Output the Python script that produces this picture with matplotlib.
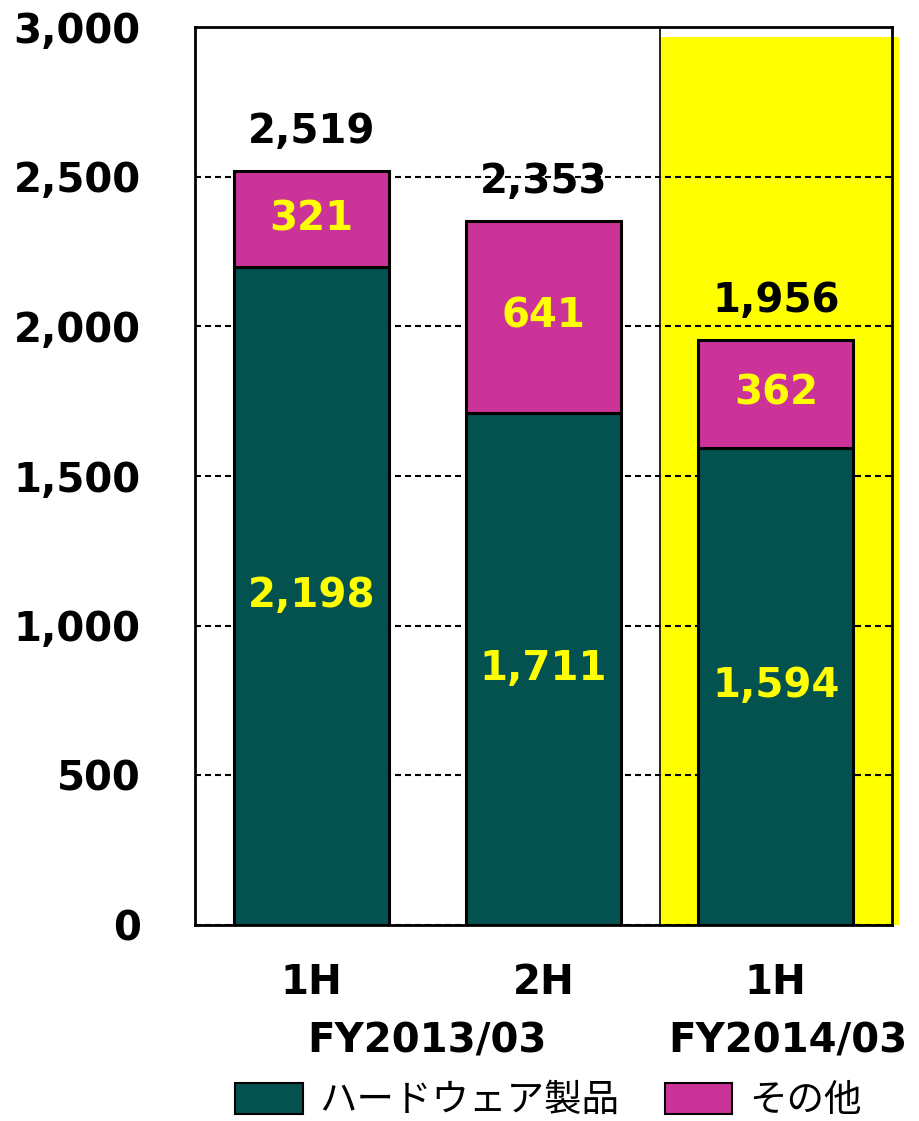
import matplotlib
matplotlib.use("Agg")
import matplotlib.pyplot as plt
from matplotlib.patches import Rectangle, Patch
import matplotlib.transforms as mtransforms
import numpy as np

# data
periods = ["1H", "2H", "1H"]
fiscal_years = ["FY2013/03", "FY2014/03"]
hardware = [2198, 1711, 1594]
other = [321, 641, 362]
totals = [2519, 2353, 1956]
series_names = ["ハードウェア製品", "その他"]

teal = "#03524F"
magenta = "#CC3399"

plt.rcParams['font.family'] = ['DejaVu Sans']

fig = plt.figure(figsize=(9.2, 11.21), dpi=100)
ax = fig.add_axes([0.212, 0.1748, 0.7576, 0.8011])

x = np.arange(len(periods))
w = 0.667

# highlighted current period
ax.add_patch(Rectangle((1.5, 0), 1.03, 2968, facecolor="#FFFF00", edgecolor="none",
                       zorder=0, clip_on=False))
ax.axvline(1.5, color="black", lw=1.2, zorder=1)

ax.bar(x, hardware, w, color=teal, edgecolor="black", linewidth=2.2, zorder=3)
ax.bar(x, other, w, bottom=hardware, color=magenta, edgecolor="black", linewidth=2.2, zorder=3)

ax.set_xlim(-0.5, 2.5)
ax.set_ylim(0, 3000)
ax.set_yticks(np.arange(0, 3001, 500))
ax.set_yticklabels([f"{v:,}" for v in range(0, 3001, 500)], fontsize=29, fontweight="bold")
ax.tick_params(axis="y", length=0, pad=39)
ax.set_xticks([])
ax.yaxis.grid(True, linestyle=(0, (2.9, 1.9)), color="black", linewidth=1.5, zorder=2)
ax.set_axisbelow(False)
for s in ax.spines.values():
    s.set_linewidth(2)
    s.set_zorder(4)

lbl = dict(fontsize=29, fontweight="bold", ha="center", va="center", zorder=5)
for i in range(len(x)):
    ax.text(x[i], hardware[i] / 2, f"{hardware[i]:,}", color="#FFFF00", **lbl)
    ax.text(x[i], hardware[i] + other[i] / 2, f"{other[i]:,}", color="#FFFF00", **lbl)
    ax.text(x[i], totals[i] + 130, f"{totals[i]:,}", color="black", **lbl)

trans = mtransforms.blended_transform_factory(ax.transData, fig.transFigure)
for i, p in enumerate(periods):
    ax.text(x[i], (1121 - 983) / 1121, p, transform=trans, **{**lbl, "zorder": 1})
ax.text(0.5, (1121 - 1042) / 1121, fiscal_years[0], transform=trans, **{**lbl, "zorder": 1})
ax.text(2.05, (1121 - 1042) / 1121, fiscal_years[1], transform=trans, **{**lbl, "zorder": 1})

handles = [Patch(facecolor=teal, edgecolor="black", linewidth=1.5),
           Patch(facecolor=magenta, edgecolor="black", linewidth=1.5)]
fig.legend(handles, series_names, loc="center", bbox_to_anchor=(0.596, 0.018), ncol=2,
           frameon=False, prop={"family": "Noto Sans CJK JP", "size": 27},
           handlelength=1.8, handleheight=0.9, handletextpad=0.45, columnspacing=1.2,
           borderpad=0, borderaxespad=0)

fig.savefig("out.png", dpi=100)
